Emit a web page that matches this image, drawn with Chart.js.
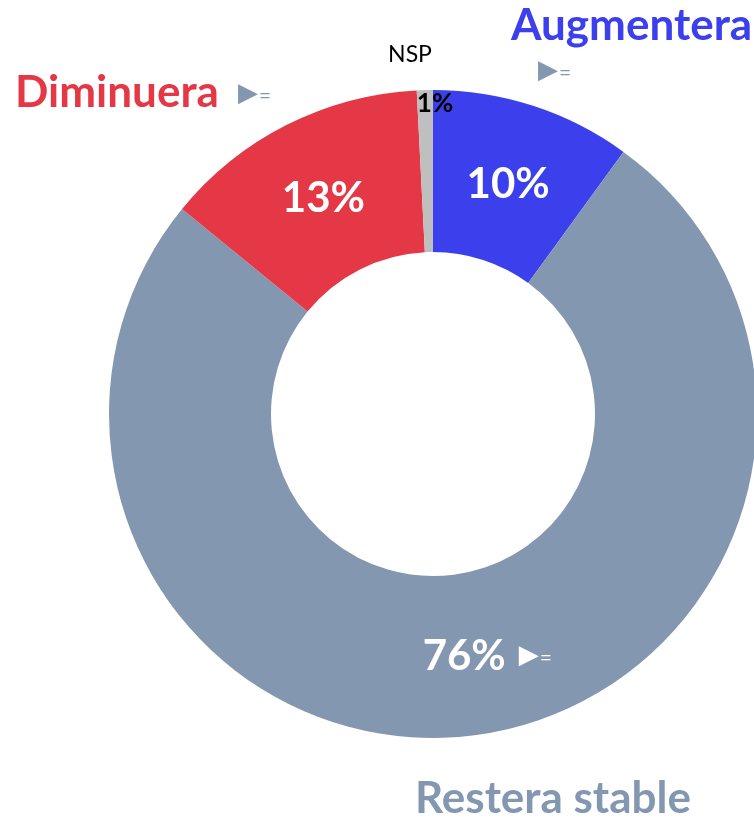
<!DOCTYPE html>
<html>
<head>
<meta charset="utf-8">
<script src="https://cdn.jsdelivr.net/npm/chart.js@4.4.1/dist/chart.umd.min.js"></script>
<style>
  html, body { margin: 0; padding: 0; overflow: hidden; background: #fff; }
  #wrap { position: absolute; left: 0; top: 0; width: 800px; height: 821px; }
</style>
</head>
<body>
<div id="wrap"><canvas id="donut" width="800" height="821"></canvas></div>
<script>
// Data
const categories = ['Augmentera', 'Restera stable', 'Diminuera', 'NSP'];
const shares = [10, 75.9, 13.3, 0.8];
const valueLabels = ['10%', '76%', '13%', '1%'];
const sliceColors = ['#3B40EC', '#8497B0', '#E53846', '#BFBFBF'];
const nameColors = ['#3B40EC', '#8497B0', '#E53846', '#000000'];

const FONT = 'Lato, "Open Sans", sans-serif';

function txt(ctx, s, x, y, font, color, align) {
  ctx.font = font;
  ctx.fillStyle = color;
  ctx.textAlign = align || 'left';
  ctx.textBaseline = 'alphabetic';
  ctx.fillText(s, x, y);
}

// "▶=" marker, x = left edge, y = vertical middle
function arrowEq(ctx, x, y, color, size) {
  ctx.font = size + 'px "DejaVu Sans"';
  ctx.fillStyle = color;
  ctx.textAlign = 'left';
  ctx.textBaseline = 'middle';
  ctx.fillText('▶', x, y);
  const w = ctx.measureText('▶').width;
  ctx.font = Math.round(size * 0.8) + 'px ' + FONT;
  ctx.fillText('=', x + w + 1, y + 2);
}

const labelsPlugin = {
  id: 'sliceText',
  afterDatasetsDraw(chart) {
    const ctx = chart.ctx;
    const arcs = chart.getDatasetMeta(0).data;
    const c = arcs[0].getProps(['x', 'y', 'outerRadius'], true);
    const cx = c.x, cy = c.y;
    ctx.save();
    arcs.forEach((arc, i) => {
      const p = arc.getProps(['x', 'y', 'startAngle', 'endAngle', 'innerRadius', 'outerRadius'], true);
      const mid = (p.startAngle + p.endAngle) / 2;
      if (i === 3) {
        // thin NSP slice: label near the outer edge
        const r = p.outerRadius - 13;
        const ex = p.x + r * Math.cos(p.endAngle);
        txt(ctx, valueLabels[i], ex + 2, p.y - r + 9, 'bold 26px ' + FONT, '#000', 'center');
        return;
      }
      const r = (p.innerRadius + p.outerRadius) / 2;
      const lx = p.x + r * Math.cos(mid);
      const ly = p.y + r * Math.sin(mid);
      txt(ctx, valueLabels[i], lx, ly + 15, 'bold 42px ' + FONT, '#fff', 'center');
      if (i === 1) {
        ctx.font = 'bold 42px ' + FONT;
        const w = ctx.measureText(valueLabels[i]).width;
        arrowEq(ctx, lx + w / 2 + 13, ly + 1, '#fff', 26);
      }
    });

    // category names around the ring
    const big = 'bold 44px ' + FONT;
    txt(ctx, categories[2], cx - 418, cy - 307, big, nameColors[2]);
    arrowEq(ctx, cx - 195, cy - 320, '#8497B0', 26);
    txt(ctx, categories[0], cx + 78, cy - 374, big, nameColors[0]);
    arrowEq(ctx, cx + 105, cy - 343, '#8497B0', 26);
    txt(ctx, categories[3], cx - 23, cy - 352, '23px ' + FONT, nameColors[3], 'center');
    txt(ctx, categories[1], cx - 18, cy + 399, big, nameColors[1]);
    ctx.restore();
  }
};

new Chart(document.getElementById('donut'), {
  type: 'doughnut',
  data: {
    labels: categories,
    datasets: [{
      data: shares,
      backgroundColor: sliceColors,
      borderWidth: 0
    }]
  },
  options: {
    responsive: false,
    animation: false,
    cutout: '50%',
    layout: { padding: { left: 109, right: 43, top: 90, bottom: 83 } },
    plugins: {
      legend: { display: false },
      tooltip: { enabled: false }
    }
  },
  plugins: [labelsPlugin]
});
</script>
</body>
</html>
